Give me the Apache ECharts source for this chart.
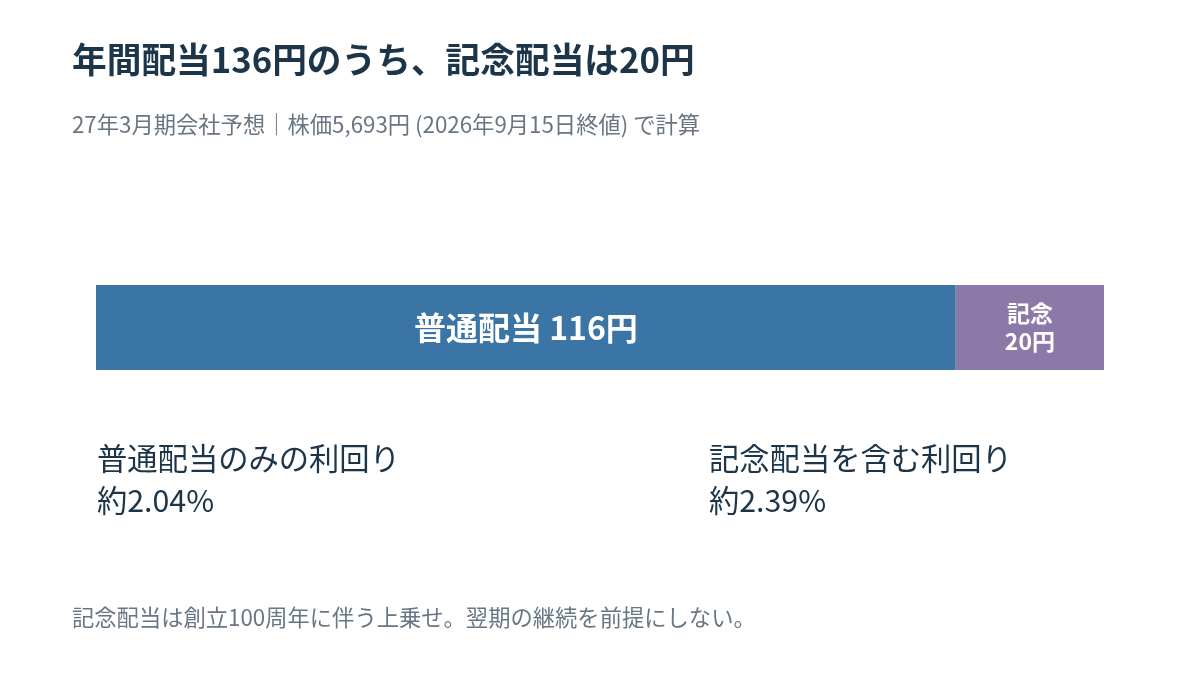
<!DOCTYPE html>
<html>
<head>
<meta charset="utf-8">
<script src="https://cdn.jsdelivr.net/npm/echarts@6/dist/echarts.min.js"></script>
<style>
  html, body { margin: 0; padding: 0; background: #fff; }
  #chart { width: 1200px; height: 675px; }
</style>
</head>
<body>
<div id="chart"></div>
<script>
// データ
const categories = ['年間配当'];
const ordinaryDividend = [116];
const commemorativeDividend = [20];
const totalDividend = 136;
const yieldLabels = ['普通配当のみの利回り', '記念配当を含む利回り'];
const yieldValues = ['約2.04%', '約2.39%'];

const FONT = '"Noto Sans CJK JP", "Noto Sans", sans-serif';
const DARK = '#1d3549';
const GRAY = '#687583';

const chart = echarts.init(document.getElementById('chart'));

const option = {
    backgroundColor: '#ffffff',
    animation: false,
    title: {
        text: '年間配当136円のうち、記念配当は20円',
        subtext: '27年3月期会社予想｜株価5,693円 (2026年9月15日終値) で計算',
        left: 67,
        top: 37,
        itemGap: 37,
        textStyle: { fontFamily: FONT, fontSize: 34.7, fontWeight: 'bold', color: DARK },
        subtextStyle: { fontFamily: FONT, fontSize: 22.3, color: GRAY }
    },
    grid: { left: 96, right: 96, top: 285, height: 85 },
    xAxis: { type: 'value', min: 0, max: totalDividend, show: false },
    yAxis: { type: 'category', data: categories, show: false },
    series: [
        {
            name: '普通配当',
            type: 'bar',
            stack: 'div',
            barWidth: '100%',
            data: ordinaryDividend,
            itemStyle: { color: '#3a75a5' },
            label: {
                show: true,
                position: 'inside',
                formatter: (p) => `普通配当 ${p.value}円`,
                fontFamily: FONT, fontSize: 32, fontWeight: 'bold', color: '#fff'
            }
        },
        {
            name: '記念配当',
            type: 'bar',
            stack: 'div',
            barWidth: '100%',
            data: commemorativeDividend,
            itemStyle: { color: '#8b7aa8' },
            label: {
                show: true,
                position: 'inside',
                formatter: (p) => `記念\n${p.value}円`,
                lineHeight: 28,
                fontFamily: FONT, fontSize: 23, fontWeight: 'bold', color: '#fff'
            }
        }
    ],
    graphic: [
        ...yieldLabels.map((t, i) => ({
            type: 'text',
            left: i === 0 ? 97 : 709,
            top: 443,
            style: { text: t, fontFamily: FONT, fontSize: 30.3, fill: DARK }
        })),
        ...yieldValues.map((t, i) => ({
            type: 'text',
            left: i === 0 ? 97 : 709,
            top: 485,
            style: { text: t, fontFamily: FONT, fontSize: 30.3, fill: DARK }
        })),
        {
            type: 'text',
            left: 72,
            top: 606,
            style: {
                text: '記念配当は創立100周年に伴う上乗せ。翌期の継続を前提にしない。',
                fontFamily: FONT, fontSize: 22.3, fill: GRAY
            }
        }
    ]
};

chart.setOption(option);
</script>
</body>
</html>
